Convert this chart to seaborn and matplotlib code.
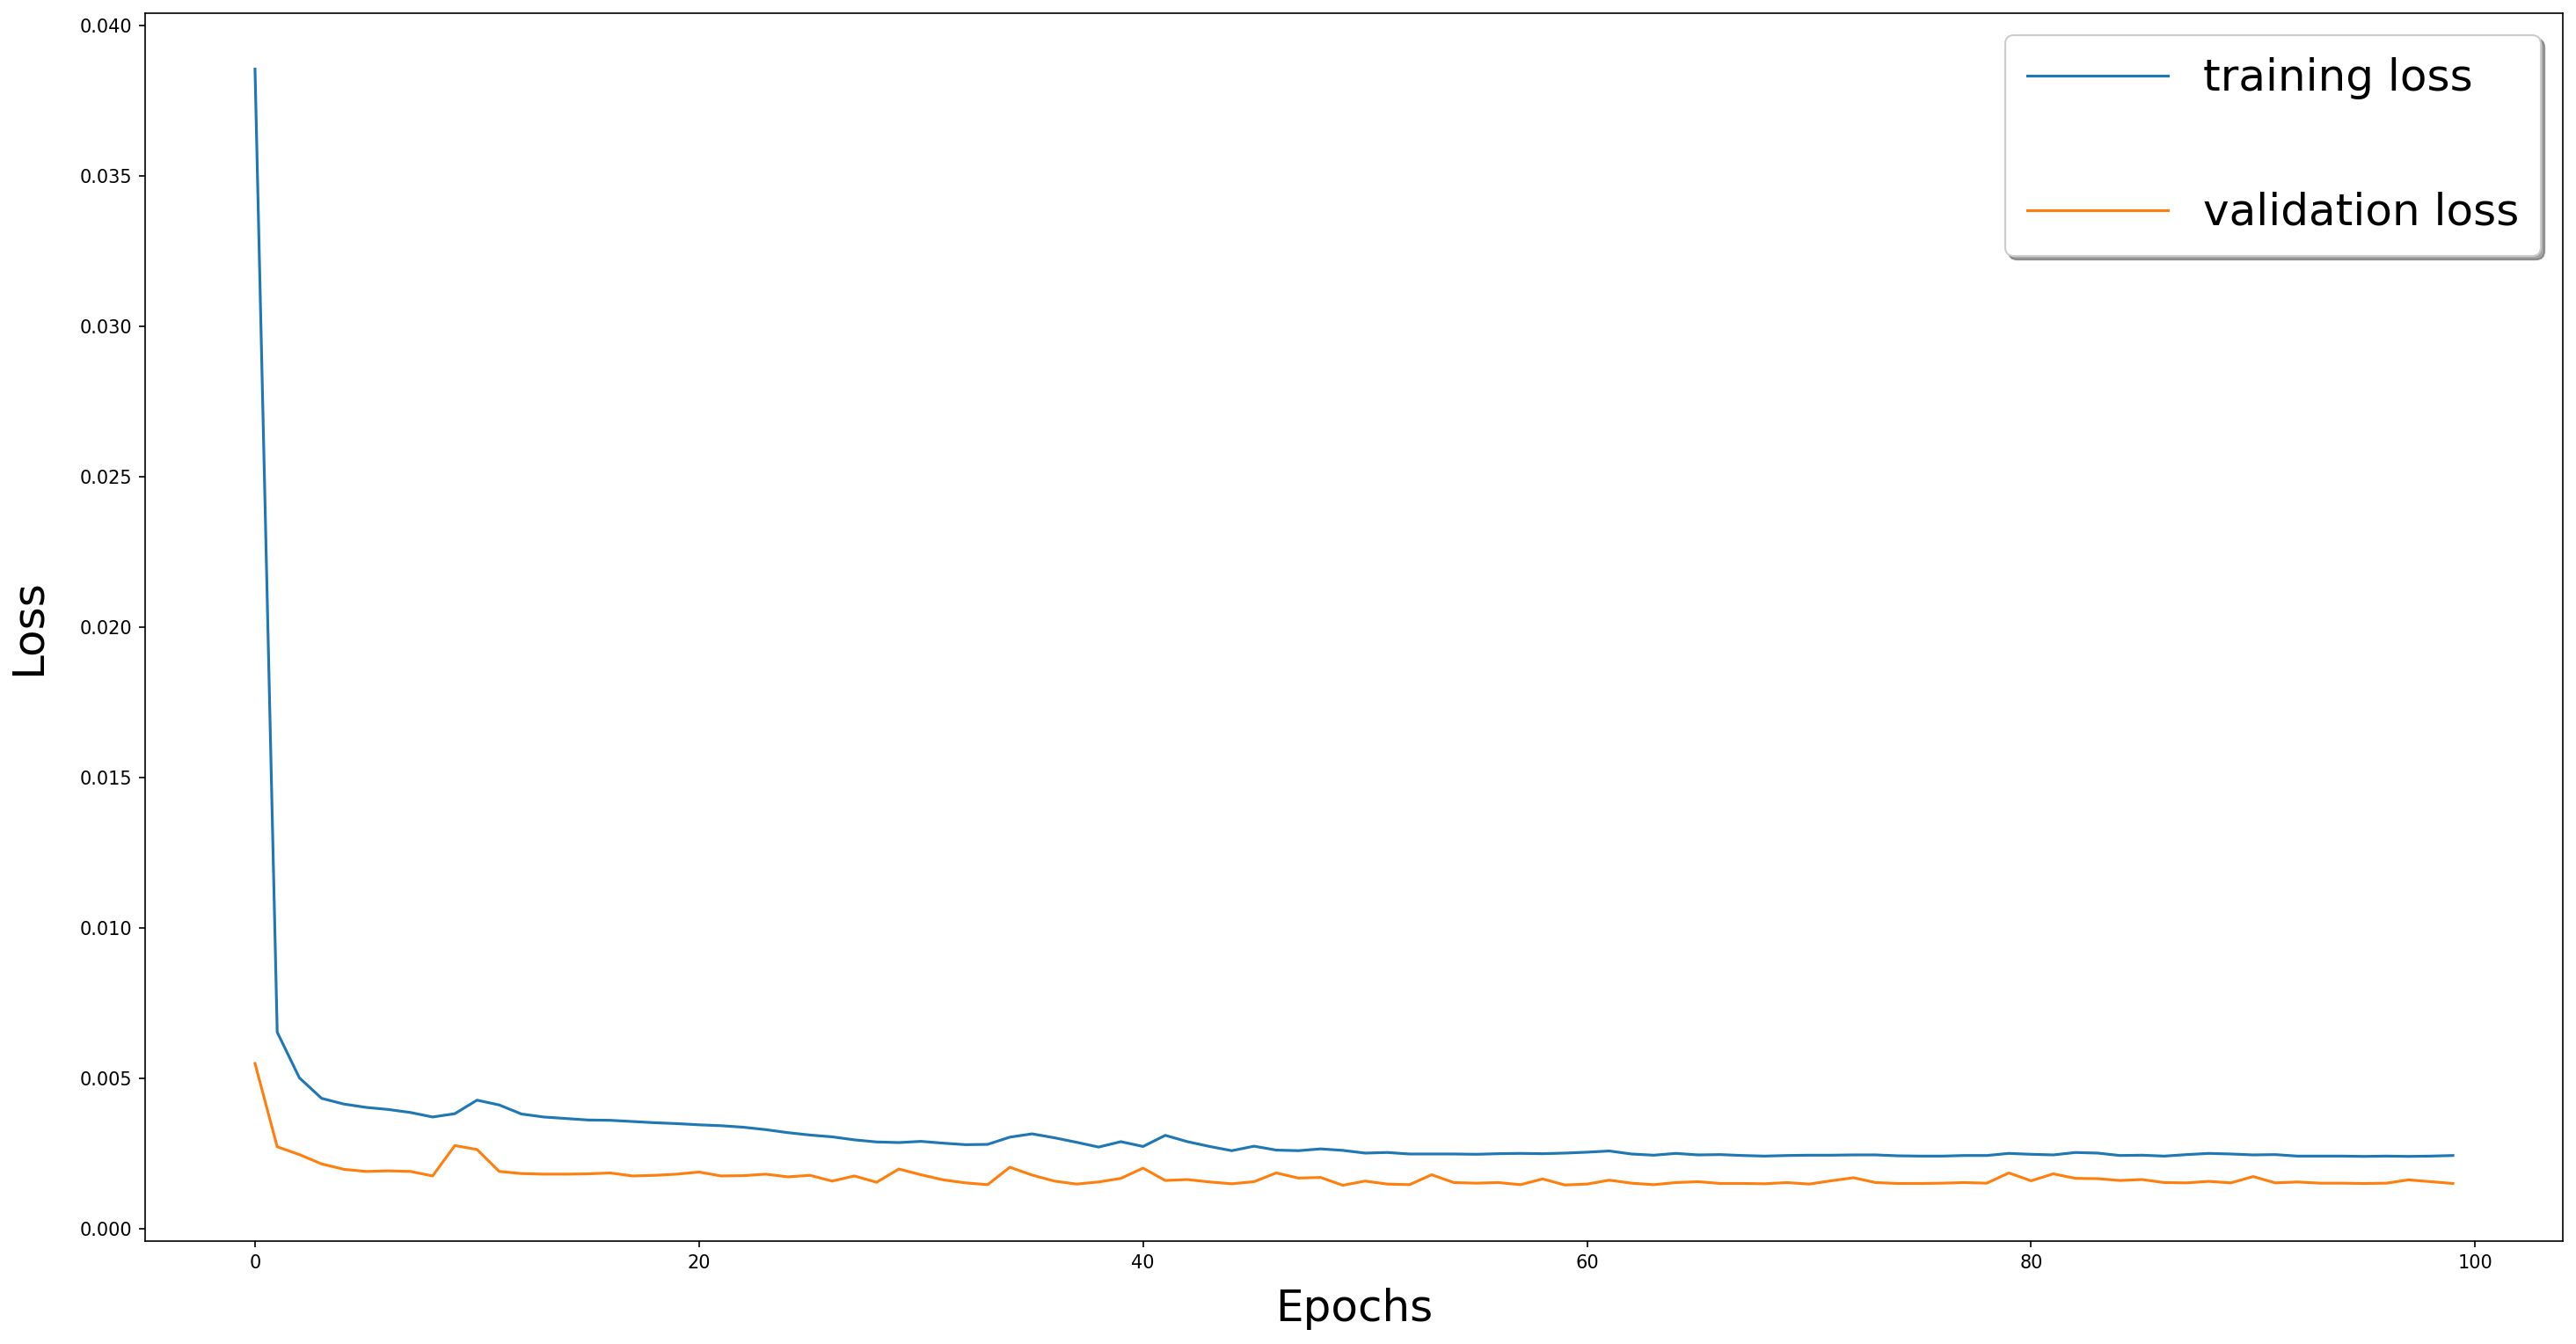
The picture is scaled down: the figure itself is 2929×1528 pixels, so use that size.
import numpy as np
import pandas as pd
import seaborn as sns
import matplotlib.pyplot as plt

# values
training_loss = [
    0.03855, 0.00653, 0.00501, 0.00433, 0.00414, 0.00403, 0.00396, 0.00386, 0.00371, 0.00382,
    0.00427, 0.00411, 0.00381, 0.00371, 0.00366, 0.00361, 0.00360, 0.00356, 0.00352, 0.00349,
    0.00345, 0.00342, 0.00337, 0.00329, 0.00319, 0.00311, 0.00305, 0.00295, 0.00288, 0.00286,
    0.00290, 0.00284, 0.00279, 0.00280, 0.00304, 0.00315, 0.00302, 0.00287, 0.00271, 0.00289,
    0.00273, 0.00310, 0.00289, 0.00273, 0.00259, 0.00274, 0.00261, 0.00259, 0.00265, 0.00260,
    0.00251, 0.00253, 0.00248, 0.00248, 0.00248, 0.00247, 0.00249, 0.00250, 0.00249, 0.00251,
    0.00254, 0.00258, 0.00248, 0.00244, 0.00250, 0.00245, 0.00246, 0.00243, 0.00241, 0.00243,
    0.00244, 0.00244, 0.00245, 0.00245, 0.00242, 0.00241, 0.00241, 0.00243, 0.00243, 0.00250,
    0.00247, 0.00245, 0.00253, 0.00251, 0.00243, 0.00244, 0.00241, 0.00246, 0.00250, 0.00248,
    0.00245, 0.00246, 0.00241, 0.00241, 0.00241, 0.00240, 0.00241, 0.00240, 0.00241, 0.00243,
]
validation_loss = [
    0.00549, 0.00272, 0.00246, 0.00215, 0.00197, 0.00190, 0.00192, 0.00190, 0.00175, 0.00276,
    0.00263, 0.00190, 0.00183, 0.00181, 0.00181, 0.00182, 0.00185, 0.00175, 0.00177, 0.00181,
    0.00188, 0.00175, 0.00176, 0.00181, 0.00172, 0.00177, 0.00158, 0.00175, 0.00154, 0.00198,
    0.00179, 0.00162, 0.00152, 0.00146, 0.00204, 0.00178, 0.00158, 0.00148, 0.00155, 0.00167,
    0.00201, 0.00160, 0.00163, 0.00155, 0.00149, 0.00156, 0.00185, 0.00168, 0.00170, 0.00144,
    0.00158, 0.00148, 0.00146, 0.00179, 0.00153, 0.00151, 0.00153, 0.00146, 0.00165, 0.00145,
    0.00148, 0.00161, 0.00151, 0.00146, 0.00153, 0.00156, 0.00150, 0.00150, 0.00149, 0.00153,
    0.00148, 0.00159, 0.00169, 0.00153, 0.00150, 0.00150, 0.00151, 0.00153, 0.00151, 0.00185,
    0.00159, 0.00182, 0.00167, 0.00166, 0.00160, 0.00163, 0.00153, 0.00152, 0.00157, 0.00152,
    0.00173, 0.00152, 0.00155, 0.00151, 0.00151, 0.00150, 0.00151, 0.00162, 0.00156, 0.00150,
]
epochs = list(range(len(training_loss)))

df = pd.DataFrame({"epoch": epochs, "train": training_loss, "val": validation_loss})

fig = plt.figure(figsize=(2929 / 150, 1528 / 150), dpi=150)
ax = fig.add_axes([165 / 2929, 117 / 1528, 2749 / 2929, 1396 / 1528])

sns.lineplot(data=df, x="epoch", y="train", color="tab:blue", label="training loss", ax=ax)
sns.lineplot(data=df, x="epoch", y="val", color="tab:orange", label="validation loss", ax=ax)

ax.set_xlabel("Epochs", fontsize=24, labelpad=9)
ax.set_ylabel("Loss", fontsize=24, labelpad=17)

ax.legend(loc="upper right", fontsize=24, shadow=True, fancybox=True,
          labelspacing=2.1, handlelength=3.2, borderpad=0.5)

fig.savefig("out.png", dpi=150)
